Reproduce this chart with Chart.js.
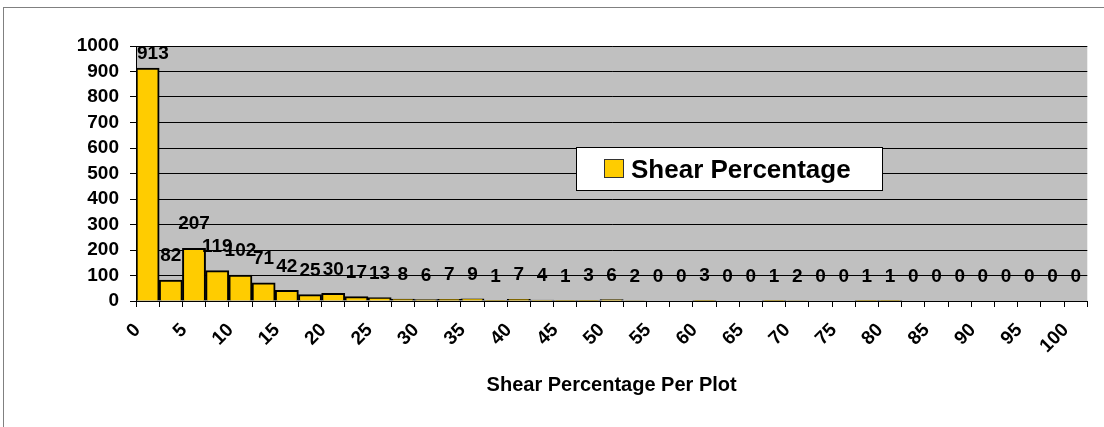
<!DOCTYPE html>
<html><head><meta charset="utf-8">
<script src="https://cdn.jsdelivr.net/npm/chart.js@4.4.1/dist/chart.umd.min.js"></script>
<style>
html,body{margin:0;padding:0;background:#fff;overflow:hidden;width:1104px;height:427px;}
#frame{position:absolute;left:3px;top:7px;width:1300px;height:600px;border-left:1px solid #808080;border-top:1px solid #808080;}
#wrap{position:absolute;left:0;top:0;width:1104px;height:427px;}
</style></head><body>
<div id="frame"></div>
<div id="wrap"><canvas id="c" width="1104" height="427"></canvas></div>
<script>
const categories = [0, 2.5, 5, 7.5, 10, 12.5, 15, 17.5, 20, 22.5, 25, 27.5, 30, 32.5, 35, 37.5, 40, 42.5, 45, 47.5, 50, 52.5, 55, 57.5, 60, 62.5, 65, 67.5, 70, 72.5, 75, 77.5, 80, 82.5, 85, 87.5, 90, 92.5, 95, 97.5, 100];
const seriesName = 'Shear Percentage';
const counts = [913, 82, 207, 119, 102, 71, 42, 25, 30, 17, 13, 8, 6, 7, 9, 1, 7, 4, 1, 3, 6, 2, 0, 0, 3, 0, 0, 1, 2, 0, 0, 1, 1, 0, 0, 0, 0, 0, 0, 0, 0];
const yTicks = [0, 100, 200, 300, 400, 500, 600, 700, 800, 900, 1000];
const shownXLabels = [0, 5, 10, 15, 20, 25, 30, 35, 40, 45, 50, 55, 60, 65, 70, 75, 80, 85, 90, 95, 100];
const xTitle = 'Shear Percentage Per Plot';

const FONT = "'Liberation Sans', Arial, sans-serif";

const plotBg = {
  id: 'plotBg',
  beforeDraw(chart) {
    const a = chart.chartArea, ctx = chart.ctx;
    ctx.save();
    ctx.fillStyle = '#C0C0C0';
    ctx.fillRect(a.left, a.top, a.right - a.left, a.bottom - a.top);
    ctx.restore();
  }
};

const valueLabels = {
  id: 'valueLabels',
  afterDatasetsDraw(chart) {
    const ctx = chart.ctx;
    const meta = chart.getDatasetMeta(0);
    const ds = chart.data.datasets[0];
    const a = chart.chartArea;
    ctx.save();
    ctx.font = 'bold 19px ' + FONT;
    ctx.fillStyle = '#000';
    ctx.textAlign = 'center';
    ctx.textBaseline = 'middle';
    meta.data.forEach((bar, i) => {
      const txt = String(ds.data[i]);
      const half = ctx.measureText(txt).width / 2;
      const x = Math.min(Math.max(bar.x, a.left + 1 + half), a.right - 1 - half);
      const y = Math.max(bar.y - 24, a.top + 8);
      ctx.fillText(txt, x, y);
    });
    ctx.restore();
  }
};

const legendBox = {
  id: 'legendBox',
  afterDraw(chart) {
    const ctx = chart.ctx;
    const ds = chart.data.datasets[0];
    ctx.save();
    ctx.fillStyle = '#fff';
    ctx.fillRect(576, 147, 307, 44);
    ctx.strokeStyle = '#000';
    ctx.lineWidth = 1;
    ctx.strokeRect(576.5, 147.5, 306, 43);
    ctx.fillStyle = ds.backgroundColor;
    ctx.fillRect(604, 159, 20, 19);
    ctx.strokeStyle = '#333';
    ctx.strokeRect(604.5, 159.5, 19, 18);
    ctx.fillStyle = '#000';
    ctx.font = 'bold 26px ' + FONT;
    ctx.textAlign = 'left';
    ctx.textBaseline = 'alphabetic';
    ctx.fillText(ds.label, 631, 178);
    ctx.restore();
  }
};

new Chart(document.getElementById('c'), {
  type: 'bar',
  data: {
    labels: categories,
    datasets: [{
      label: seriesName,
      data: counts,
      backgroundColor: '#FFCC00',
      borderColor: '#000',
      borderWidth: 2,
      categoryPercentage: 1,
      barPercentage: 1
    }]
  },
  options: {
    responsive: false,
    animation: false,
    devicePixelRatio: 1,
    layout: { padding: { left: 0, right: 16, top: 46, bottom: 0 } },
    plugins: { legend: { display: false }, tooltip: { enabled: false } },
    scales: {
      x: {
        grid: { display: true, drawOnChartArea: false, drawTicks: true, tickLength: 6, color: '#000', offset: true },
        border: { display: true, color: '#000', width: 1 },
        ticks: {
          autoSkip: false, maxRotation: 45, minRotation: 45, padding: 12, labelOffset: -10,
          color: '#000', font: { family: FONT, size: 19, weight: 'bold' },
          callback: (v, i) => shownXLabels.includes(categories[i]) ? String(categories[i]) : ''
        },
        title: { display: true, text: xTitle, color: '#000', font: { family: FONT, size: 20, weight: 'bold' }, padding: { top: 0, bottom: 30 } },
        afterFit(scale) { scale.height = 126; }
      },
      y: {
        min: 0, max: 1000,
        afterBuildTicks(scale) { scale.ticks = yTicks.map(v => ({ value: v })); },
        grid: { color: '#000', lineWidth: 1, drawTicks: true, tickLength: 6 },
        border: { display: true, color: '#000', width: 1 },
        ticks: { autoSkip: false, padding: 11, color: '#000', font: { family: FONT, size: 19, weight: 'bold' }, callback: (v) => String(v) },
        afterFit(scale) { scale.width = 136; }
      }
    }
  },
  plugins: [plotBg, valueLabels, legendBox]
});
</script>
</body></html>
